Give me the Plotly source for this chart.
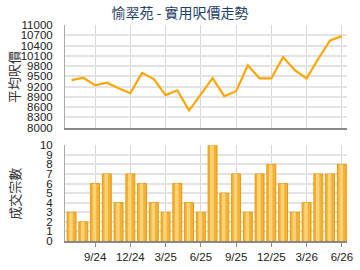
import plotly.graph_objects as go

months = ["7/24","8/24","9/24","10/24","11/24","12/24","1/25","2/25","3/25","4/25","5/25","6/25",
          "7/25","8/25","9/25","10/25","11/25","12/25","1/26","2/26","3/26","4/26","5/26","6/26"]
price = [9390, 9457, 9236, 9313, 9150, 9006, 9600, 9418, 8949, 9090, 8498, 8968,
         9447, 8920, 9064, 9821, 9438, 9438, 10061, 9677, 9438, 10013, 10550, 10674]
volume = [3, 2, 6, 7, 4, 7, 6, 4, 3, 6, 4, 3, 10, 5, 7, 3, 7, 8, 6, 3, 4, 7, 7, 8]
tick_labels = ["9/24", "12/24", "3/25", "6/25", "9/25", "12/25", "3/26", "6/26"]
price_ticks = list(range(8000, 11001, 300))
vol_ticks = list(range(0, 11))

x = list(range(len(months)))
tick_pos = [months.index(t) for t in tick_labels]

fig = go.Figure()
fig.add_trace(go.Scatter(x=x, y=price, mode="lines", line=dict(color="#FFA500", width=2.2),
                         xaxis="x", yaxis="y", hoverinfo="skip"))
fig.add_trace(go.Bar(x=x, y=volume, width=0.76, marker=dict(color="#F5B232", line=dict(color="#E89A10", width=1)),
                     xaxis="x2", yaxis="y2", hoverinfo="skip"))
fig.add_trace(go.Bar(x=x, y=volume, width=0.3, offset=-0.2, marker=dict(color="#FAD27A", line=dict(width=0)),
                     xaxis="x2", yaxis="y2", hoverinfo="skip"))

tick_font = dict(family="Liberation Sans, Arial", size=11.5, color="#222")
xr = [-0.56, 23.44]
fig.update_layout(
    width=360, height=270, showlegend=False, barmode="overlay",
    margin=dict(l=65, r=7, t=25, b=26),
    paper_bgcolor="white", plot_bgcolor="white",
    title=dict(text="愉翠苑 - 實用呎價走勢", x=0.5, xanchor="center", y=0.952, yanchor="middle",
               font=dict(family="Noto Sans CJK TC", size=14, color="#1F3F66")),
    xaxis=dict(domain=[0, 1], range=xr, anchor="y", tickvals=tick_pos, showticklabels=False,
               showgrid=True, gridcolor="#d8d8d8", gridwidth=1, zeroline=False,
               showline=True, linecolor="#888", linewidth=1.5, ticks=""),
    yaxis=dict(domain=[0.525, 1.0], range=[8000, 11000], tickvals=price_ticks,
               ticktext=[str(v) for v in price_ticks], tickfont=tick_font,
               showgrid=True, gridcolor="#e3e3e3", gridwidth=1.5, zeroline=False,
               showline=True, linecolor="#aaa", linewidth=1, ticks="", ticklabelstandoff=9),
    xaxis2=dict(domain=[0, 1], range=xr, anchor="y2", tickvals=tick_pos, ticktext=tick_labels,
                tickfont=tick_font, showgrid=True, gridcolor="#d8d8d8", gridwidth=1, zeroline=False,
                showline=True, linecolor="#888", linewidth=1.5, ticks="outside", ticklen=4, tickcolor="#888"),
    yaxis2=dict(domain=[0, 0.443], range=[0, 10], tickvals=vol_ticks, ticktext=[str(v) for v in vol_ticks],
                tickfont=tick_font,
                showgrid=True, gridcolor="#e3e3e3", gridwidth=1.5, zeroline=False,
                showline=True, linecolor="#aaa", linewidth=1, ticks="", ticklabelstandoff=9),
)
fig.add_annotation(text="平均呎價", xref="paper", yref="paper", x=-0.18, y=0.76, xanchor="center",
                   yanchor="middle", textangle=-90, showarrow=False,
                   font=dict(family="Noto Sans CJK TC", size=13, color="#333"))
fig.add_annotation(text="成交宗數", xref="paper", yref="paper", x=-0.18, y=0.22, xanchor="center",
                   yanchor="middle", textangle=-90, showarrow=False,
                   font=dict(family="Noto Sans CJK TC", size=13, color="#333"))
fig.write_html("out.html")
